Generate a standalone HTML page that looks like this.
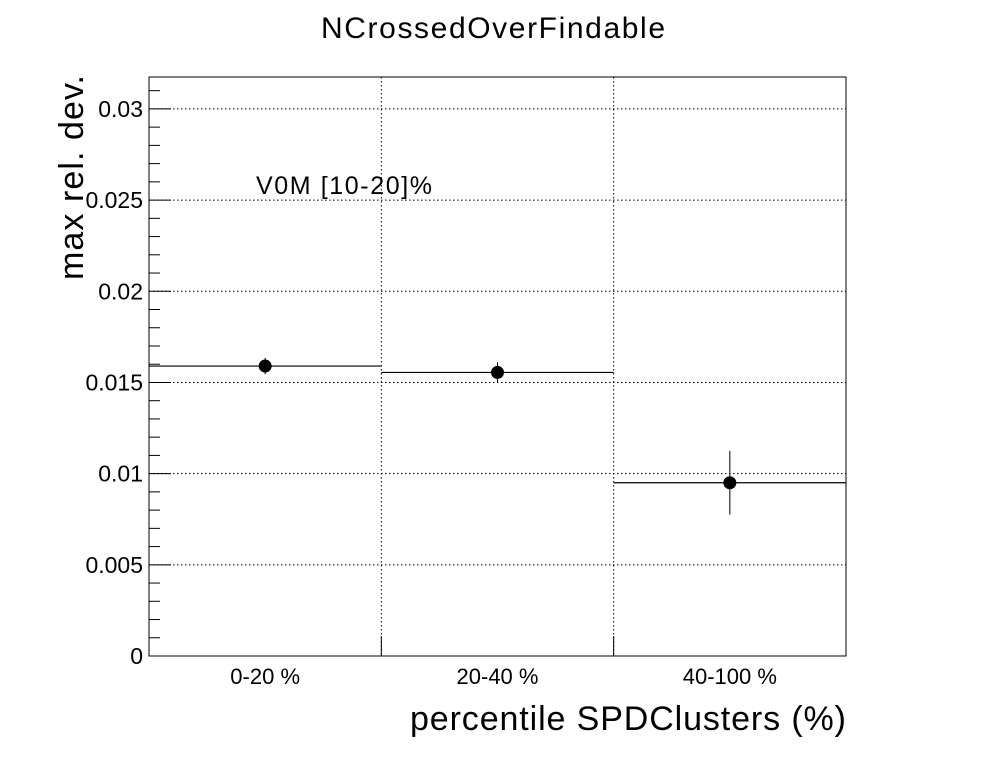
<!DOCTYPE html>
<html><head><meta charset="utf-8"><style>body{margin:0;background:#fff}svg{display:block;font-family:"Liberation Sans",sans-serif}</style></head>
<body>
<svg id="c" width="996" height="772">
<text x="493" y="38" font-size="30" text-anchor="middle" textLength="344">NCrossedOverFindable</text>
<text x="846" y="730" font-size="34" text-anchor="end" textLength="436">percentile SPDClusters (%)</text>
<text transform="translate(83,280) rotate(-90)" font-size="34" textLength="205">max rel. dev.</text>
<text x="256" y="194" font-size="25" textLength="176">V0M [10-20]%</text>
<g id="g"></g>
</svg>
<script>
const categories=["0-20 %","20-40 %","40-100 %"];
const values=[0.0159,0.01555,0.0095];
const errors=[0.00045,0.00055,0.00175];
const yTicks=[0,0.005,0.01,0.015,0.02,0.025,0.03];
const yTickLabels=["0","0.005","0.01","0.015","0.02","0.025","0.03"];
const X0=149,X1=846,Y0=656,Y1=77,YMAX=0.03175;
const y=v=>Y0-(v/YMAX)*(Y0-Y1);
const bw=(X1-X0)/categories.length;
const x=i=>X0+i*bw;
const g=document.getElementById('g');
const NS="http://www.w3.org/2000/svg";
function mk(t,a){const e=document.createElementNS(NS,t);for(const k in a)e.setAttribute(k,a[k]);g.appendChild(e);return e;}
yTicks.forEach((v,i)=>{
 const l=mk('line',{x1:X0,x2:X1,y1:y(v),y2:y(v),stroke:'#000','stroke-dasharray':'1.5,2.5','stroke-width':1});
 
 
 const t=mk('line',{x1:X0,x2:X0+22,y1:y(v),y2:y(v),stroke:'#000'});
 
 
 const tx=mk('text',{x:X0-6,y:y(v)+8,'font-size':23,'text-anchor':'end'});
 tx.textContent=yTickLabels[i];
 
 
});
for(let v=0.001;v<YMAX;v+=0.001){
 if(Math.abs(v/0.005-Math.round(v/0.005))<1e-6)continue;
 const t=mk('line',{x1:X0,x2:X0+11,y1:y(v),y2:y(v),stroke:'#000'});
 
 
}
for(let i=1;i<categories.length;i++){
 const l=mk('line',{x1:x(i),x2:x(i),y1:Y1,y2:Y0,stroke:'#000','stroke-dasharray':'1.5,2.5'});
 
 
 const t=mk('line',{x1:x(i),x2:x(i),y1:Y0-20,y2:Y0,stroke:'#000'});
 
 
}
const fr=mk('rect',{x:X0,y:Y1,width:X1-X0,height:Y0-Y1,fill:'none',stroke:'#000'});


categories.forEach((c,i)=>{
 const cx=x(i)+bw/2;
 const tx=mk('text',{x:cx,y:684,'font-size':22,'text-anchor':'middle'});
 tx.textContent=c;
 
 
 const h=mk('line',{x1:x(i),x2:x(i+1),y1:y(values[i]),y2:y(values[i]),stroke:'#000','stroke-width':1.2});
 
 
 const e=mk('line',{x1:cx,x2:cx,y1:y(values[i]+errors[i]),y2:y(values[i]-errors[i]),stroke:'#000'});
 
 
 const p=mk('circle',{cx:cx,cy:y(values[i]),r:6.5,fill:'#000'});
 
 
});
</script>
</body></html>
